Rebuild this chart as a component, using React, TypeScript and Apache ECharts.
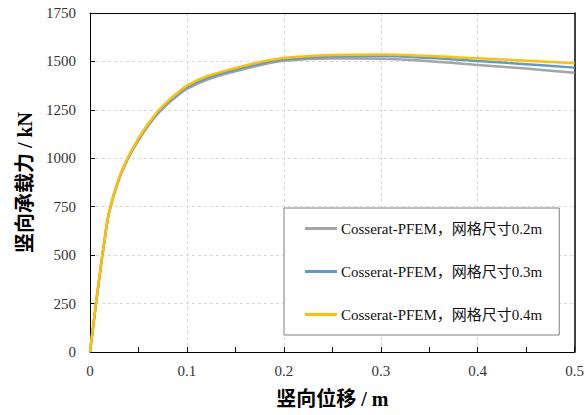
import React, { useEffect, useRef } from "react";
import * as echarts from "echarts";

const xValues = [0, 0.005, 0.01, 0.015, 0.02, 0.03, 0.04, 0.05, 0.06, 0.07, 0.08, 0.09, 0.1, 0.12, 0.15, 0.175, 0.2, 0.25, 0.3, 0.35, 0.4, 0.45, 0.5];
const mesh02 = [0, 200, 395, 575, 725, 893, 1006, 1093, 1168, 1230, 1280, 1322, 1358, 1404, 1449, 1480, 1503, 1515, 1514, 1501, 1482, 1463, 1442];
const mesh03 = [0, 203, 398, 578, 728, 896, 1010, 1098, 1173, 1236, 1287, 1330, 1367, 1413, 1458, 1488, 1510, 1525, 1528, 1518, 1502, 1486, 1468];
const mesh04 = [0, 205, 400, 580, 730, 898, 1013, 1103, 1178, 1243, 1294, 1337, 1375, 1422, 1466, 1496, 1518, 1533, 1536, 1528, 1516, 1504, 1490];
const seriesNames = ["Cosserat-PFEM，网格尺寸0.2m", "Cosserat-PFEM，网格尺寸0.3m", "Cosserat-PFEM，网格尺寸0.4m"];
const seriesColors = ["#a5a5a5", "#5b9bd5", "#ffc000"];
const xTitle = "竖向位移 / m";
const yTitle = "竖向承载力 / kN";

const FONT = "Liberation Serif, Noto Sans CJK SC, serif";

export default function App() {
  const ref = useRef<HTMLDivElement>(null);
  useEffect(() => {
    if (!ref.current) return;
    const chart = echarts.init(ref.current, undefined, { renderer: "svg" });
    const all = [mesh02, mesh03, mesh04];
    const grid = { color: "#d9d9d9", type: [3, 3], width: 1 };
    chart.setOption({
      animation: false,
      backgroundColor: "#fff",
      textStyle: { fontFamily: FONT },
      grid: { left: 90, right: 10, top: 13, bottom: 63 },
      legend: {
        orient: "vertical",
        left: 284,
        top: 208,
        width: 273,
        padding: [13, 17, 13, 21],
        itemGap: 28,
        itemWidth: 32,
        itemHeight: 3,
        icon: "rect",
        borderColor: "#7f7f7f",
        borderWidth: 1,
        backgroundColor: "#fff",
        textStyle: { fontFamily: FONT, fontSize: 15, color: "#111", padding: [0, 0, 0, -1] },
        data: seriesNames,
      },
      xAxis: [
        {
          type: "value",
          min: 0,
          max: 0.5,
          interval: 0.1,
          name: xTitle,
          nameLocation: "middle",
          nameGap: 37,
          nameTextStyle: { fontFamily: FONT, fontSize: 20, fontWeight: "bold", color: "#000", verticalAlign: "top" },
          axisLine: { show: true, lineStyle: { color: "#000", width: 1 } },
          axisTick: { show: true, inside: true, length: 5, lineStyle: { color: "#000" } },
          minorTick: { show: true, splitNumber: 2, length: 5, lineStyle: { color: "#000" } },
          axisLabel: { fontFamily: FONT, fontSize: 15, color: "#333", margin: 11, formatter: (v: number) => String(Math.round(v * 10) / 10) },
          splitLine: { show: true, showMinLine: false, showMaxLine: false, lineStyle: grid },
        },
        {
          type: "value",
          position: "top",
          min: 0,
          max: 0.5,
          interval: 0.1,
          axisLine: { show: true, onZero: false, lineStyle: { color: "#000", width: 1 } },
          axisTick: { show: false },
          axisLabel: { show: false },
          splitLine: { show: false },
        },
      ],
      yAxis: [
        {
          type: "value",
          min: 0,
          max: 1750,
          interval: 250,
          name: yTitle,
          nameLocation: "middle",
          nameGap: 50,
          nameTextStyle: { fontFamily: FONT, fontSize: 20, fontWeight: "bold", color: "#000" },
          axisLine: { show: true, lineStyle: { color: "#000", width: 1 } },
          axisTick: { show: true, inside: true, length: 5, lineStyle: { color: "#000" } },
          axisLabel: { fontFamily: FONT, fontSize: 15, color: "#333", margin: 14, formatter: (v: number) => String(v) },
          splitLine: { show: true, showMinLine: false, showMaxLine: false, lineStyle: grid },
        },
        {
          type: "value",
          position: "right",
          min: 0,
          max: 1750,
          interval: 250,
          axisLine: { show: true, onZero: false, lineStyle: { color: "#000", width: 1.5 } },
          axisTick: { show: false },
          axisLabel: { show: false },
          splitLine: { show: false },
        },
      ],
      series: seriesNames.map((name, i) => ({
        name,
        type: "line",
        smooth: 0.4,
        symbol: "none",
        color: seriesColors[i],
        lineStyle: { color: seriesColors[i], width: 2.5 },
        data: xValues.map((x, j) => [x, all[i][j]]),
        z: 2 + i,
      })),
    });
    return () => chart.dispose();
  }, []);
  return <div ref={ref} style={{ width: 587, height: 415, position: "absolute", left: 0, top: 0 }} />;
}
